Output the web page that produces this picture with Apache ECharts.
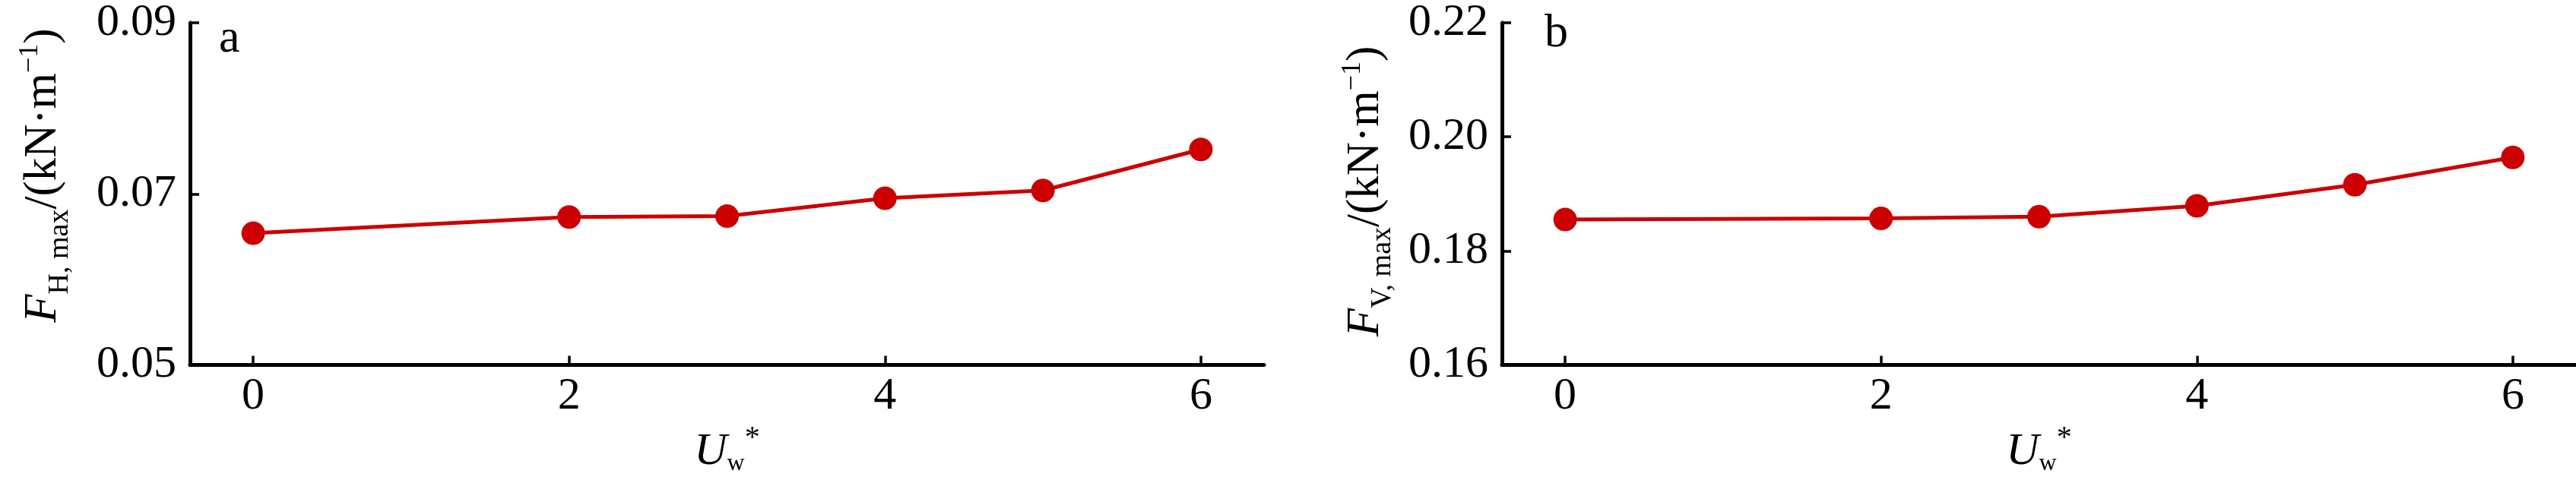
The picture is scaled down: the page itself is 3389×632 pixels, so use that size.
<!DOCTYPE html>
<html>
<head>
<meta charset="utf-8">
<script src="https://cdn.jsdelivr.net/npm/echarts@6/dist/echarts.min.js"></script>
<style>
html,body{margin:0;padding:0;background:#fff;}
#chart{width:3389px;height:632px;}
</style>
</head>
<body>
<div id="chart"></div>
<script>
// ---- data ----
const xValues = [0, 2, 3, 4, 5, 6];
const fHmax = [0.0654, 0.0673, 0.0674, 0.0695, 0.0704, 0.0752];
const fVmax = [0.1855, 0.1857, 0.1860, 0.1879, 0.1916, 0.1964];
const xTicks = [0, 2, 4, 6];
const yTicksA = [0.05, 0.07, 0.09];
const yTicksB = [0.16, 0.18, 0.20, 0.22];
const panelLabels = ['a', 'b'];

const FONT = '"Liberation Serif","Times New Roman",serif';
const RED = '#cc0000';

const chart = echarts.init(document.getElementById('chart'), null, {renderer: 'canvas'});

const yTitleRich = {
  it: {fontFamily: FONT, fontSize: 61, fontStyle: 'italic', color: '#000', verticalAlign: 'middle'},
  n: {fontFamily: FONT, fontSize: 61, color: '#000', verticalAlign: 'middle'},
  sub: {fontFamily: FONT, fontSize: 38, color: '#000', verticalAlign: 'middle', padding: [44, 0, 0, 0]},
  sup: {fontFamily: FONT, fontSize: 36, color: '#000', verticalAlign: 'middle', padding: [0, 0, 34, 0]}
};
const xTitleRich = {
  it: {fontFamily: FONT, fontSize: 60, fontStyle: 'italic', color: '#000', verticalAlign: 'middle'},
  sub: {fontFamily: FONT, fontSize: 32, color: '#000', verticalAlign: 'middle', padding: [32, 0, 0, 0]},
  sup: {fontFamily: FONT, fontSize: 40, color: '#000', verticalAlign: 'middle', padding: [0, 0, 35, 0]}
};

function xAxisFor(i) {
  return {
    gridIndex: i, type: 'value', min: -0.4, max: 6.4,
    axisLine: {onZero: false, lineStyle: {color: '#000', width: 5}},
    axisTick: {inside: true, length: 12, customValues: xTicks, lineStyle: {color: '#000', width: 3.5}},
    axisLabel: {customValues: xTicks, fontFamily: FONT, fontSize: 60, color: '#000', margin: 12},
    splitLine: {show: false},
    name: '{it|U}{sub|w}{sup|*}',
    nameLocation: 'middle', nameGap: 59,
    nameTextStyle: {rich: xTitleRich}
  };
}
function yAxisFor(i, ticks) {
  return {
    gridIndex: i, type: 'value', min: ticks[0], max: ticks[ticks.length - 1],
    axisLine: {show: true, onZero: false, lineStyle: {color: '#000', width: 5}},
    axisTick: {show: true, inside: true, length: 12, customValues: ticks, lineStyle: {color: '#000', width: 3.5}},
    axisLabel: {customValues: ticks, fontFamily: FONT, fontSize: 60, color: '#000', margin: 18,
      formatter: v => v.toFixed(2)},
    splitLine: {show: false}
  };
}
function seriesFor(i, vals) {
  return {
    type: 'line', xAxisIndex: i, yAxisIndex: i,
    data: xValues.map((x, k) => [x, vals[k]]),
    symbol: 'circle', symbolSize: 31,
    lineStyle: {color: RED, width: 5},
    itemStyle: {color: RED},
    z: 3
  };
}

const option = {
  animation: false,
  backgroundColor: '#fff',
  grid: [
    {left: 250, top: 24, width: 1413, height: 470},
    {left: 1976, top: 24, width: 1413, height: 470}
  ],
  xAxis: [xAxisFor(0), xAxisFor(1)],
  yAxis: [yAxisFor(0, yTicksA), yAxisFor(1, yTicksB)],
  series: [seriesFor(0, fHmax), seriesFor(1, fVmax)],
  graphic: [
    {type: 'text', x: 57, y: 231, rotation: Math.PI / 2,
      style: {text: '{it|F}{sub|H, max}{n|/(kN·m}{sup|−1}{n|)}', rich: yTitleRich, align: 'center', verticalAlign: 'middle'}},
    {type: 'text', x: 1797, y: 252, rotation: Math.PI / 2,
      style: {text: '{it|F}{sub|V, max}{n|/(kN·m}{sup|−1}{n|)}', rich: yTitleRich, align: 'center', verticalAlign: 'middle'}},
    {type: 'text', x: 288, y: 52,
      style: {text: panelLabels[0], fontFamily: FONT, fontSize: 62, fill: '#000', align: 'left', verticalAlign: 'middle'}},
    {type: 'text', x: 2032, y: 45,
      style: {text: panelLabels[1], fontFamily: FONT, fontSize: 62, fill: '#000', align: 'left', verticalAlign: 'middle'}}
  ]
};
chart.setOption(option);
</script>
</body>
</html>
